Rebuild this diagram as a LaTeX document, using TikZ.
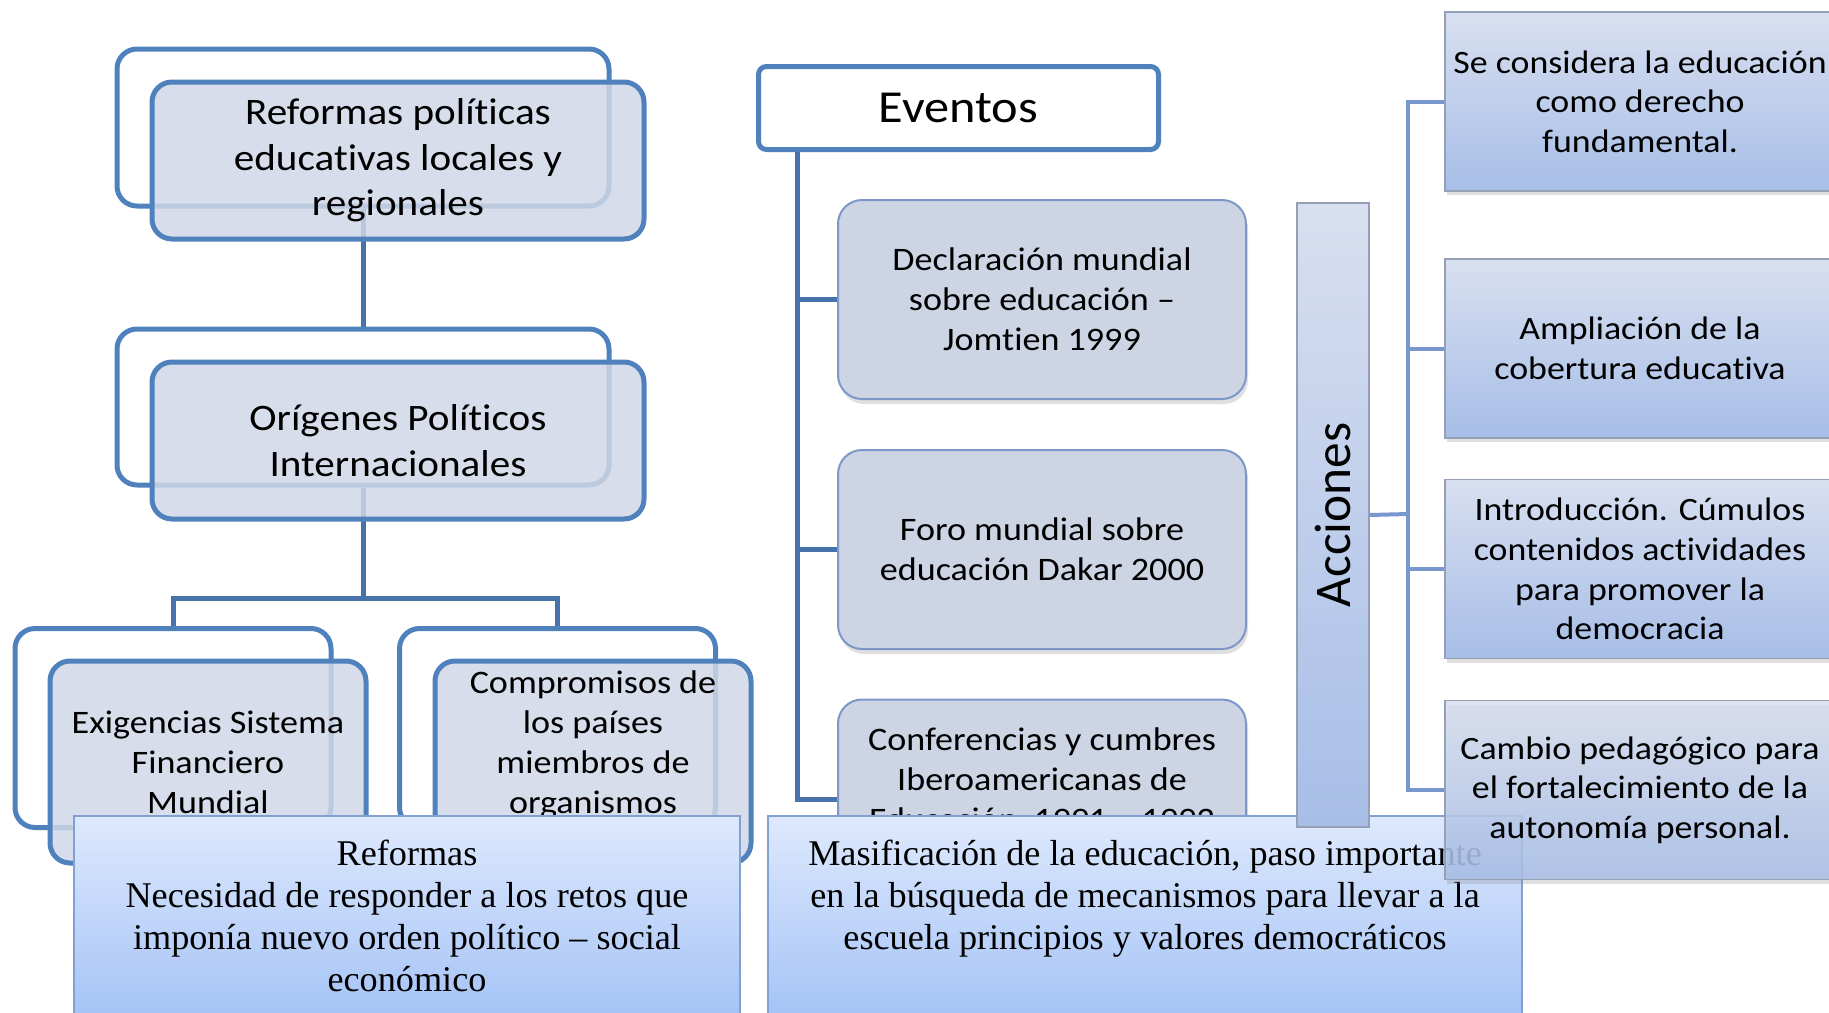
\documentclass[tikz,border=0pt]{standalone}
\usepackage{fontspec}
\setmainfont{Carlito}[FakeStretch=1.1,Ligatures=NoCommon]
\newfontfamily\barfont{Carlito}[Ligatures=NoCommon]
\newfontfamily\notefont{Liberation Serif}
\usetikzlibrary{shadows}

\definecolor{frameblue}{RGB}{79,129,189}
\definecolor{treeblue}{RGB}{72,114,170}
\definecolor{frontfill}{RGB}{208,215,230}
\definecolor{eventfill}{RGB}{205,212,228}
\definecolor{eventline}{RGB}{125,152,200}
\definecolor{acttop}{RGB}{216,223,240}
\definecolor{actbottom}{RGB}{167,190,231}
\definecolor{actline}{RGB}{150,160,180}
\definecolor{actlink}{RGB}{120,152,205}
\definecolor{notetop}{RGB}{222,233,253}
\definecolor{notebottom}{RGB}{165,195,246}
\definecolor{noteline}{RGB}{130,160,210}

\begin{document}
\begin{tikzpicture}[x=0.5pt,y=-0.5pt,
    back box/.style={draw=frameblue,line width=2.5pt,rounded corners=10pt},
    front box/.style={draw=frameblue,line width=2.5pt,rounded corners=10pt,
        fill=frontfill,fill opacity=0.85,text opacity=1,align=center,inner sep=0pt},
    tree link/.style={draw=treeblue,line width=2.5pt},
    event box/.style={draw=eventline,line width=1pt,rounded corners=12pt,fill=eventfill,
        drop shadow={opacity=0.25,shadow xshift=1pt,shadow yshift=-2.5pt},
        minimum width=204pt,minimum height=99.5pt,align=center,inner sep=0pt,
        font=\fontsize{16.4}{20}\selectfont},
    act box/.style={draw=actline,line width=0.8pt,top color=acttop,bottom color=actbottom,
        drop shadow={opacity=0.25,shadow xshift=1pt,shadow yshift=-2pt},
        minimum width=195pt,minimum height=89.5pt,align=center,inner sep=0pt,
        font=\fontsize{16.3}{19.8}\selectfont},
    act link/.style={draw=actlink,line width=2pt},
    note box/.style={draw=noteline,line width=0.8pt,top color=notetop,bottom color=notebottom,
        minimum height=100pt,align=center,inner sep=0pt,
        font=\notefont\fontsize{18.1}{21}\selectfont}]
\useasboundingbox (0,0) rectangle (1829,1012);
\clip (0,0) rectangle (1829,1012);

% left column
\node[back box,minimum width=246pt,minimum height=78.5pt] (polback) at (363,127.5) {};
\node[back box,minimum width=246pt,minimum height=78pt] (origback) at (363,407) {};
\node[back box,minimum width=158pt,minimum height=99.5pt] (exigback) at (173,728) {};
\node[back box,minimum width=158pt,minimum height=99.5pt] (compback) at (557.5,728) {};
\coordinate (split) at (363,598);
\draw[tree link] (polback.south) -- (origback.north);
\draw[tree link] (origback.south) -- (split);
\draw[tree link] (exigback.north) |- (split) -| (compback.north);
\node[front box,minimum width=246pt,minimum height=78.5pt,font=\fontsize{18.7}{22.75}\selectfont]
    (pol) at (398,160.5) {Reformas políticas\\educativas locales y\\regionales};
\node[front box,minimum width=246pt,minimum height=78.5pt,font=\fontsize{18.7}{22.75}\selectfont]
    (orig) at (398,440.5) {Orígenes Políticos\\Internacionales};
\node[front box,minimum width=158pt,minimum height=101pt,font=\fontsize{16.4}{20}\selectfont]
    (exig) at (208,762) {Exigencias Sistema\\Financiero\\Mundial};
\node[front box,minimum width=158pt,minimum height=101pt,font=\fontsize{16.4}{20}\selectfont]
    (comp) at (593,762) {Compromisos de\\los países\\miembros de\\organismos\\~};

% eventos
\node[draw=frameblue,line width=2.5pt,rounded corners=4pt,fill=white,
    minimum width=200pt,minimum height=41.5pt,font=\fontsize{22.9}{27}\selectfont]
    (eventos) at (958.5,108) {Eventos};
\node[event box] (jomtien) at (1042,299.5) {Declaración mundial\\sobre educación –\\Jomtien 1999};
\node[event box] (dakar) at (1042,549.5) {Foro mundial sobre\\educación Dakar 2000};
\node[event box] (ibero) at (1042,799) {Conferencias y cumbres\\Iberoamericanas de\\Educación\enspace 1991 – 1992\\~};
\foreach \ev in {jomtien,dakar,ibero}
    \draw[tree link] ([xshift=20.5pt]eventos.south west) |- (\ev.west);

% acciones
\coordinate (spine) at (1408,514);
\node[act box] (derecho) at (1640,101.5) {Se considera la educación\\como derecho\\fundamental.};
\node[act box] (cobertura) at (1640,348.5) {Ampliación de la\\cobertura educativa};
\node[act box] (democracia) at (1640,569) {Introducción. Cúmulos\\contenidos actividades\\para promover la\\democracia};
\foreach \act in {derecho,cobertura,democracia}
    \draw[act link] (spine) |- (\act.west);

% bottom notes
\node[note box,minimum width=333pt] (reformas) at (407,916)
    {Reformas\\Necesidad de responder a los retos que\\imponía nuevo orden político – social\\económico};
\node[note box,minimum width=377pt] (masif) at (1145,916)
    {Masificación de la educación, paso importante\\en la búsqueda de mecanismos para llevar a la\\escuela principios y valores democráticos\\~};

\node[draw=actline,line width=0.8pt,top color=acttop,bottom color=actbottom,
    minimum width=36pt,minimum height=312pt,inner sep=0pt] (acciones) at (1333,515) {};
\node[rotate=90,font=\barfont\fontsize{25.7}{30}\selectfont] (acctext) at (acciones.center) {Acciones};
\draw[act link] (acciones.east) -- (spine);
\node[act box,fill opacity=0.85,text opacity=1] (autonomia) at (1640,790)
    {Cambio pedagógico para\\el fortalecimiento de la\\autonomía personal.};
\draw[act link] (spine) |- (autonomia.west);
\end{tikzpicture}
\end{document}
